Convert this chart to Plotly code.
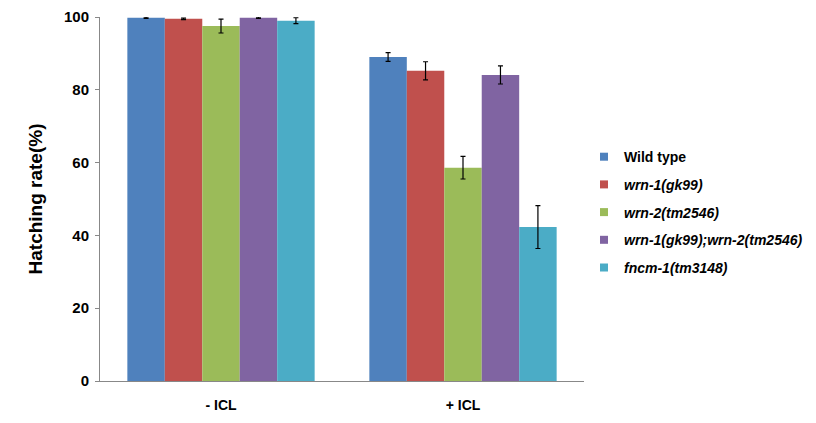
import plotly.graph_objects as go

categories = ["- ICL", "+ ICL"]
series_names = ["Wild type", "<i>wrn-1(gk99)</i>", "<i>wrn-2(tm2546)</i>",
                "<i>wrn-1(gk99);wrn-2(tm2546)</i>", "<i>fncm-1(tm3148)</i>"]
wild_type = [99.8, 89.0]
wrn1 = [99.5, 85.2]
wrn2 = [97.5, 58.6]
double_mut = [99.8, 84.1]
fncm1 = [99.0, 42.3]
wild_type_err = [0.2, 1.2]
wrn1_err = [0.2, 2.5]
wrn2_err = [1.9, 3.1]
double_mut_err = [0.2, 2.5]
fncm1_err = [0.8, 5.9]
colors = ["#4F81BD", "#C0504D", "#9BBB59", "#8064A2", "#4BACC6"]

values = [wild_type, wrn1, wrn2, double_mut, fncm1]
errors = [wild_type_err, wrn1_err, wrn2_err, double_mut_err, fncm1_err]

FONT = "Liberation Sans, Arial"

fig = go.Figure()
for i, (name, v, e) in enumerate(zip(series_names, values, errors)):
    fig.add_trace(go.Bar(
        x=categories, y=v, name=name, legendgroup=str(i), showlegend=False,
        marker=dict(color=colors[i], line=dict(width=0)),
        error_y=dict(type="data", array=e, visible=True, color="black",
                     thickness=1.2, width=2.5),
    ))
# legend-only entries with small square swatches
for i, name in enumerate(series_names):
    fig.add_trace(go.Scatter(
        x=[None], y=[None], mode="markers", name=name, legendgroup=str(i),
        marker=dict(symbol="square", size=8, color=colors[i]),
        showlegend=True,
    ))

fig.update_layout(
    width=816, height=423,
    margin=dict(l=92, r=240, t=9, b=50),
    paper_bgcolor="white", plot_bgcolor="white",
    barmode="group", bargap=0.226, bargroupgap=0,
    font=dict(family=FONT, color="black"),
    showlegend=True,
    legend=dict(x=1.0, y=0.464, xanchor="left", yanchor="middle",
                font=dict(size=14, family=FONT, weight="bold"),
                tracegroupgap=6.5, itemwidth=30),
    yaxis=dict(range=[0, 100], tickvals=[0, 20, 40, 60, 80, 100],
               automargin=False,
               showgrid=False, zeroline=False, showline=True,
               linecolor="#888888", linewidth=1, ticks="outside",
               ticklen=4, tickcolor="#888888", ticklabelstandoff=3,
               tickfont=dict(size=15, family=FONT, weight="bold"),
               title=dict(text="Hatching rate(%)",
                          font=dict(size=19, family=FONT, weight="bold"),
                          standoff=16)),
    xaxis=dict(showgrid=False, showline=True, linecolor="#888888", linewidth=1,
               automargin=False, ticks="", ticklabelstandoff=11,
               tickfont=dict(size=14, family=FONT, weight="bold")),
)

fig.write_html("out.html")
